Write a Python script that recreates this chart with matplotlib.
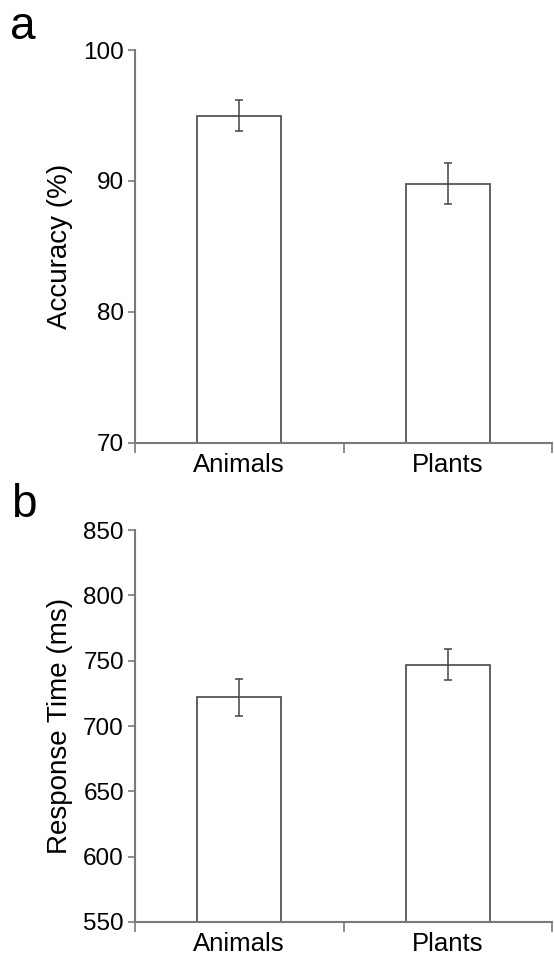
import numpy as np
from matplotlib import pyplot as plt

plt.rcParams['font.family'] = ['Liberation Sans', 'DejaVu Sans']

categories = ['Animals', 'Plants']
accuracy = [95.0, 89.8]
accuracy_err = [1.2, 1.55]
rt = [722, 747]
rt_err = [14, 12]

SPINE = '#7a7a7a'
EDGE = '#555555'

fig = plt.figure(figsize=(5.54, 9.58), dpi=100)
ax1 = fig.add_axes([0.2437, 0.5376, 0.7527, 0.4102])
ax2 = fig.add_axes([0.2437, 0.0376, 0.7527, 0.409])

def draw(ax, vals, errs, ylim, yticks, ylabel):
    x = np.arange(len(categories))
    ax.bar(x, np.array(vals) - ylim[0], width=0.405, bottom=ylim[0],
           color='white', edgecolor=EDGE, linewidth=1.3, zorder=2)
    ax.errorbar(x, vals, yerr=errs, fmt='none', ecolor='#444444',
                elinewidth=1.1, capsize=3, capthick=1.1, zorder=3)
    ax.set_xlim(-0.5, 1.5)
    ax.set_ylim(*ylim)
    ax.set_yticks(yticks)
    ax.set_xticks([-0.5, 0.5, 1.5])
    ax.set_xticklabels([])
    ax.set_xticks(x, minor=True)
    ax.set_xticklabels(categories, minor=True, fontsize=18.5)
    ax.tick_params(axis='x', which='minor', length=0, pad=7)
    ax.tick_params(axis='x', which='major', length=7, width=1.2, color=SPINE)
    ax.tick_params(axis='y', length=5, width=1.2, color=SPINE, labelsize=17.5, pad=3)
    for s in ['top', 'right']:
        ax.spines[s].set_visible(False)
    for s in ['left', 'bottom']:
        ax.spines[s].set_color(SPINE)
        ax.spines[s].set_linewidth(1.5)
    ax.set_ylabel(ylabel, fontsize=20, labelpad=7)

draw(ax1, accuracy, accuracy_err, (70, 100), [70, 80, 90, 100], 'Accuracy (%)')
draw(ax2, rt, rt_err, (550, 850), np.arange(550, 851, 50), 'Response Time (ms)')

fig.text(0.042, 0.972, 'a', fontsize=33, va='center', ha='center')
fig.text(0.042, 0.473, 'b', fontsize=33, va='center', ha='center')

fig.savefig('out.png', dpi=100)
